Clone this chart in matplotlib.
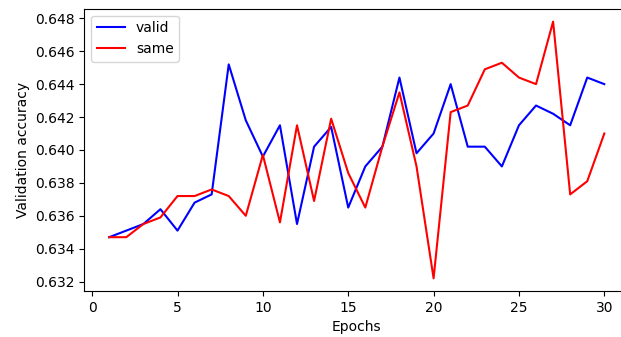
import matplotlib.pyplot as plt

epochs = list(range(1, 31))

valid_acc = [0.6347, 0.6351, 0.6355, 0.6364, 0.6351, 0.6368, 0.6373, 0.6452, 0.6418, 0.6396,
             0.6415, 0.6355, 0.6402, 0.6414, 0.6365, 0.6390, 0.6402, 0.6444, 0.6398, 0.6410,
             0.6440, 0.6402, 0.6402, 0.6390, 0.6415, 0.6427, 0.6422, 0.6415, 0.6444, 0.6440]

same_acc = [0.6347, 0.6347, 0.6355, 0.6359, 0.6372, 0.6372, 0.6376, 0.6372, 0.6360, 0.6397,
            0.6356, 0.6415, 0.6369, 0.6419, 0.6386, 0.6365, 0.6402, 0.6435, 0.6390, 0.6322,
            0.6423, 0.6427, 0.6449, 0.6453, 0.6444, 0.6440, 0.6478, 0.6373, 0.6381, 0.6410]

fig = plt.figure(figsize=(6.21, 3.37), dpi=100)
ax = fig.add_axes([0.136, 0.136, 0.877, 0.838])

ax.plot(epochs, valid_acc, color='b', label='valid')
ax.plot(epochs, same_acc, color='r', label='same')

ax.set_xlabel('Epochs')
ax.set_ylabel('Validation accuracy')
ax.legend(loc='upper left')

fig.savefig('out.png', dpi=100)
